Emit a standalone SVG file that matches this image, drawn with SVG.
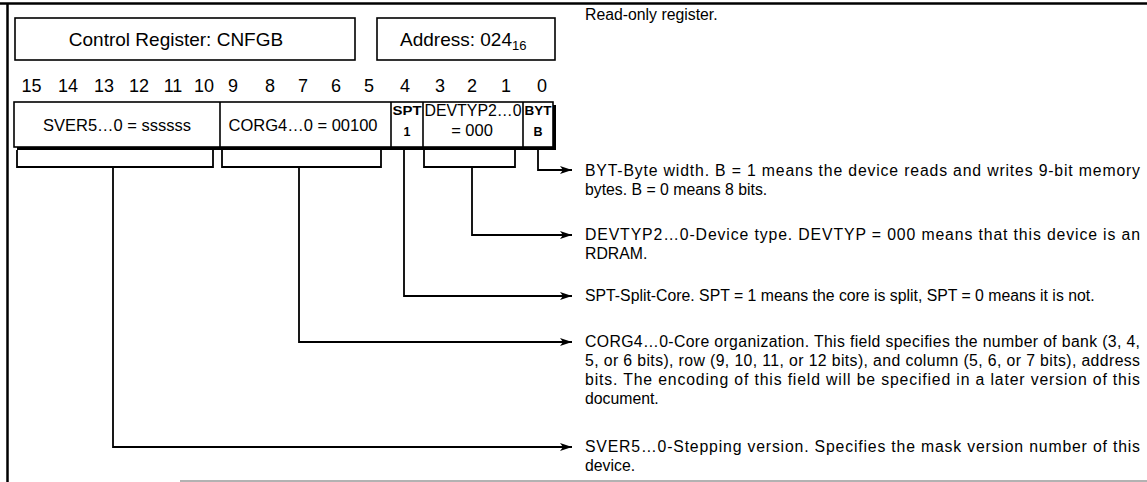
<svg xmlns="http://www.w3.org/2000/svg" width="1147" height="482" viewBox="0 0 1147 482">
<defs>
<marker id="ah" viewBox="0 0 12 8" refX="12" refY="4" markerWidth="12" markerHeight="8" markerUnits="userSpaceOnUse" orient="auto">
<path d="M0,0 L12,4 L0,8 L3,4 Z" fill="#000"/>
</marker>
<style>
text{font-family:"Liberation Sans",Arial,sans-serif;fill:#000}
.t{font-size:15.8px}
.big{font-size:19px}
.bit{font-size:18px}
.mid{font-size:16.5px}
.sm{font-size:12.5px;font-weight:bold}
.box{fill:#fff;stroke:#000;stroke-width:1.6}
.ln{fill:none;stroke:#000;stroke-width:1.8}
.c{text-anchor:middle}
</style>
</defs>
<rect width="1147" height="482" fill="#fff"/>
<g id="frame">
<line x1="0" y1="3.5" x2="1147" y2="3.5" stroke="#000" stroke-width="2.5"/>
<line x1="7.5" y1="3" x2="7.5" y2="482" stroke="#000" stroke-width="2.5"/>
<line x1="180" y1="481" x2="1147" y2="481" stroke="#999" stroke-width="1.5"/>
</g>
<g id="title">
<rect class="box" x="15" y="18" width="340" height="42"/>
<text class="big c" x="176" y="46">Control Register: CNFGB</text>
</g>
<g id="address">
<rect class="box" x="377" y="18" width="178" height="42"/>
<text class="big" x="400" y="46">Address: 024<tspan font-size="13" dy="4">16</tspan></text>
</g>
<g id="bits" class="bit c">
<text x="31.5" y="92">15</text><text x="68" y="92">14</text><text x="104" y="92">13</text><text x="139" y="92">12</text><text x="173" y="92">11</text><text x="204" y="92">10</text>
<text x="233" y="92">9</text><text x="270" y="92">8</text><text x="303" y="92">7</text><text x="336" y="92">6</text><text x="369" y="92">5</text>
<text x="405" y="92">4</text><text x="440" y="92">3</text><text x="472" y="92">2</text><text x="506" y="92">1</text><text x="542" y="92">0</text>
</g>
<g id="register">
<rect x="17" y="105" width="539" height="45" fill="#000"/>
<rect class="box" x="14" y="102" width="539" height="45"/>
<line x1="220" y1="102" x2="220" y2="147" stroke="#000" stroke-width="1.6"/>
<line x1="391" y1="102" x2="391" y2="147" stroke="#000" stroke-width="1.6"/>
<line x1="423" y1="102" x2="423" y2="147" stroke="#000" stroke-width="1.6"/>
<line x1="523" y1="102" x2="523" y2="147" stroke="#000" stroke-width="1.6"/>
</g>
<g id="field-sver"><text class="mid c" x="117" y="131">SVER5…0 = ssssss</text></g>
<g id="field-corg"><text class="mid c" x="303" y="131">CORG4…0 = 00100</text></g>
<g id="field-spt"><text class="sm c" x="407" y="115" textLength="29" lengthAdjust="spacingAndGlyphs">SPT</text><text class="sm c" x="407" y="136">1</text></g>
<g id="field-devtyp"><text class="mid c" x="473" y="116" textLength="97" lengthAdjust="spacingAndGlyphs">DEVTYP2…0</text><text class="mid c" x="472" y="136">= 000</text></g>
<g id="field-byt"><text class="sm c" x="538" y="115" textLength="27" lengthAdjust="spacingAndGlyphs">BYT</text><text class="sm c" x="538" y="136">B</text></g>
<g id="connectors">
<path class="ln" d="M538,150 V170 H572" marker-end="url(#ah)"/>
<path class="ln" d="M424,150 V167 H515 V150 M472,167 V235 H572" marker-end="url(#ah)"/>
<path class="ln" d="M404,150 V296 H572" marker-end="url(#ah)"/>
<path class="ln" d="M222,150 V167 H381 V150 M299,167 V342 H572" marker-end="url(#ah)"/>
<path class="ln" d="M17,150 V167 H213 V150 M113,167 V447 H572" marker-end="url(#ah)"/>
</g>
<g id="desc" class="t">
<text x="585" y="20">Read-only register.</text>
<text x="585" y="176" textLength="555" lengthAdjust="spacing">BYT-Byte width. B = 1 means the device reads and writes 9-bit memory</text>
<text x="585" y="195">bytes. B = 0 means 8 bits.</text>
<text x="585" y="240" textLength="555" lengthAdjust="spacing">DEVTYP2…0-Device type. DEVTYP = 000 means that this device is an</text>
<text x="585" y="259">RDRAM.</text>
<text x="585" y="301">SPT-Split-Core. SPT = 1 means the core is split, SPT = 0 means it is not.</text>
<text x="585" y="347" textLength="555" lengthAdjust="spacing">CORG4…0-Core organization. This field specifies the number of bank (3, 4,</text>
<text x="585" y="366" textLength="555" lengthAdjust="spacing">5, or 6 bits), row (9, 10, 11, or 12 bits), and column (5, 6, or 7 bits), address</text>
<text x="585" y="385" textLength="555" lengthAdjust="spacing">bits. The encoding of this field will be specified in a later version of this</text>
<text x="585" y="404">document.</text>
<text x="585" y="452" textLength="555" lengthAdjust="spacing">SVER5…0-Stepping version. Specifies the mask version number of this</text>
<text x="585" y="471">device.</text>
</g>
</svg>
